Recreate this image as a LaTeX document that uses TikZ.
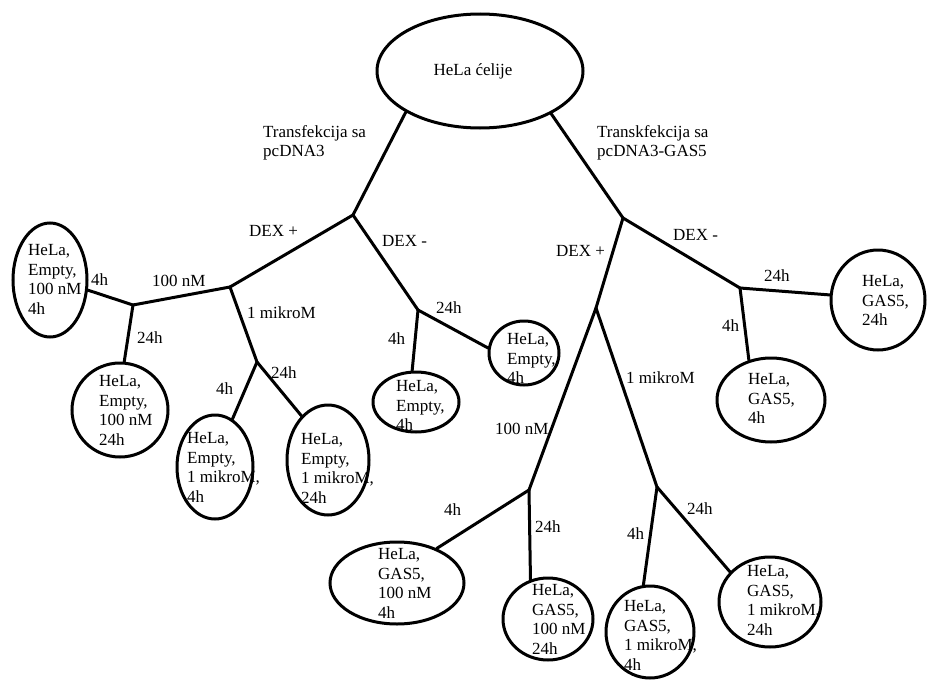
\documentclass[tikz,border=0pt]{standalone}
\usepackage{fontspec}
\setmainfont{Liberation Serif}
\usetikzlibrary{shapes.geometric}
\begin{document}
\begin{tikzpicture}[x=1pt,y=-1pt,
  cell/.style={ellipse, draw, line width=3pt, inner sep=0pt},
  conn/.style={line width=3pt, line cap=round},
  txt/.style={anchor=north west, inner sep=0pt, align=left, font=\fontsize{17}{19.8}\selectfont},
]
\useasboundingbox (0,0) rectangle (932,680);
% ellipses
\node[cell, minimum width=206pt, minimum height=114pt] (e0) at (480,71) {};
\node[cell, minimum width=74pt, minimum height=114pt] (e1) at (50,280) {};
\node[cell, minimum width=96pt, minimum height=94pt] (e2) at (120,410) {};
\node[cell, minimum width=76pt, minimum height=104pt] (e3) at (215,467) {};
\node[cell, minimum width=82pt, minimum height=110pt] (e4) at (328,460) {};
\node[cell, minimum width=86pt, minimum height=60pt] (e5) at (416,402) {};
\node[cell, minimum width=70pt, minimum height=64pt] (e6) at (524,353) {};
\node[cell, minimum width=94pt, minimum height=100pt] (e7) at (878,300) {};
\node[cell, minimum width=108pt, minimum height=84pt] (e8) at (771,400) {};
\node[cell, minimum width=134pt, minimum height=82pt] (e9) at (397,583) {};
\node[cell, minimum width=90pt, minimum height=82pt] (e10) at (548,619) {};
\node[cell, minimum width=88pt, minimum height=92pt] (e11) at (650,632) {};
\node[cell, minimum width=102pt, minimum height=90pt] (e12) at (770,602) {};
% junctions
\coordinate (a1) at (353,215);
\coordinate (a2) at (230,287);
\coordinate (a3) at (418,310);
\coordinate (a4) at (133,305);
\coordinate (a5) at (257,362);
\coordinate (b1) at (623,218);
\coordinate (b2) at (740,288);
\coordinate (b3) at (596,308);
\coordinate (b4) at (529,490);
\coordinate (b5) at (657,487);
% connectors
\draw[conn] (e0.209) -- (a1);
\draw[conn] (e0.329) -- (b1);
\draw[conn] (a1) -- (a2);
\draw[conn] (a1) -- (a3);
\draw[conn] (a2) -- (a4);
\draw[conn] (a4) -- (e1.345);
\draw[conn] (a4) -- (e2.85);
\draw[conn] (a2) -- (a5);
\draw[conn] (a5) -- (e3.70);
\draw[conn] (a5) -- (e4.121);
\draw[conn] (a3) -- (e5.97);
\draw[conn] (a3) -- (e6.172);
\draw[conn] (b1) -- (b2);
\draw[conn] (b1) -- (b3);
\draw[conn] (b2) -- (e7.174);
\draw[conn] (b2) -- (e8.119);
\draw[conn] (b3) -- (b4);
\draw[conn] (b3) -- (b5);
\draw[conn] (b4) -- (e9.41);
\draw[conn] (b4) -- (e10.114);
\draw[conn] (b5) -- (e11.98);
\draw[conn] (b5) -- (e12.143);
% ellipse texts
\node[font=\fontsize{17}{19.8}\selectfont, inner sep=0pt] (t0) at (473,71) {HeLa ćelije};
\node[txt] (t1) at (28,244) {HeLa,\\Empty,\\100 nM\\4h};
\node[txt] (t2) at (99,375) {HeLa,\\Empty,\\100 nM\\24h};
\node[txt] (t3) at (187,432) {HeLa,\\Empty,\\1 mikroM,\\4h};
\node[txt] (t4) at (301,433) {HeLa,\\Empty,\\1 mikroM,\\24h};
\node[txt] (t5) at (396,380) {HeLa,\\Empty,\\4h};
\node[txt] (t6) at (507,333) {HeLa,\\Empty,\\4h};
\node[txt] (t7) at (862,275) {HeLa,\\GAS5,\\24h};
\node[txt] (t8) at (748,373) {HeLa,\\GAS5,\\4h};
\node[txt] (t9) at (378,548) {HeLa,\\GAS5,\\100 nM\\4h};
\node[txt] (t10) at (532,584) {HeLa,\\GAS5,\\100 nM\\24h};
\node[txt] (t11) at (624,600) {HeLa,\\GAS5,\\1 mikroM,\\4h};
\node[txt] (t12) at (747,565) {HeLa,\\GAS5,\\1 mikroM,\\24h};
% branch labels
\node[txt] (l1) at (263,125) {Transfekcija sa\\pcDNA3};
\node[txt] (l2) at (597,125) {Transkfekcija sa\\pcDNA3-GAS5};
\node[txt] (l3) at (249,225) {DEX +};
\node[txt] (l4) at (382,235) {DEX -};
\node[txt] (l5) at (152,275) {100 nM};
\node[txt] (l6) at (91,274) {4h};
\node[txt] (l7) at (137,332) {24h};
\node[txt] (l8) at (247,307) {1 mikroM};
\node[txt] (l9) at (216,382) {4h};
\node[txt] (l10) at (271,367) {24h};
\node[txt] (l11) at (388,333) {4h};
\node[txt] (l12) at (436,302) {24h};
\node[txt] (l13) at (556,245) {DEX +};
\node[txt] (l14) at (673,229) {DEX -};
\node[txt] (l15) at (764,270) {24h};
\node[txt] (l16) at (722,320) {4h};
\node[txt] (l17) at (626,372) {1 mikroM};
\node[txt] (l18) at (495,423) {100 nM};
\node[txt] (l19) at (444,503) {4h};
\node[txt] (l20) at (535,520) {24h};
\node[txt] (l21) at (627,527) {4h};
\node[txt] (l22) at (687,502) {24h};
\end{tikzpicture}
\end{document}
